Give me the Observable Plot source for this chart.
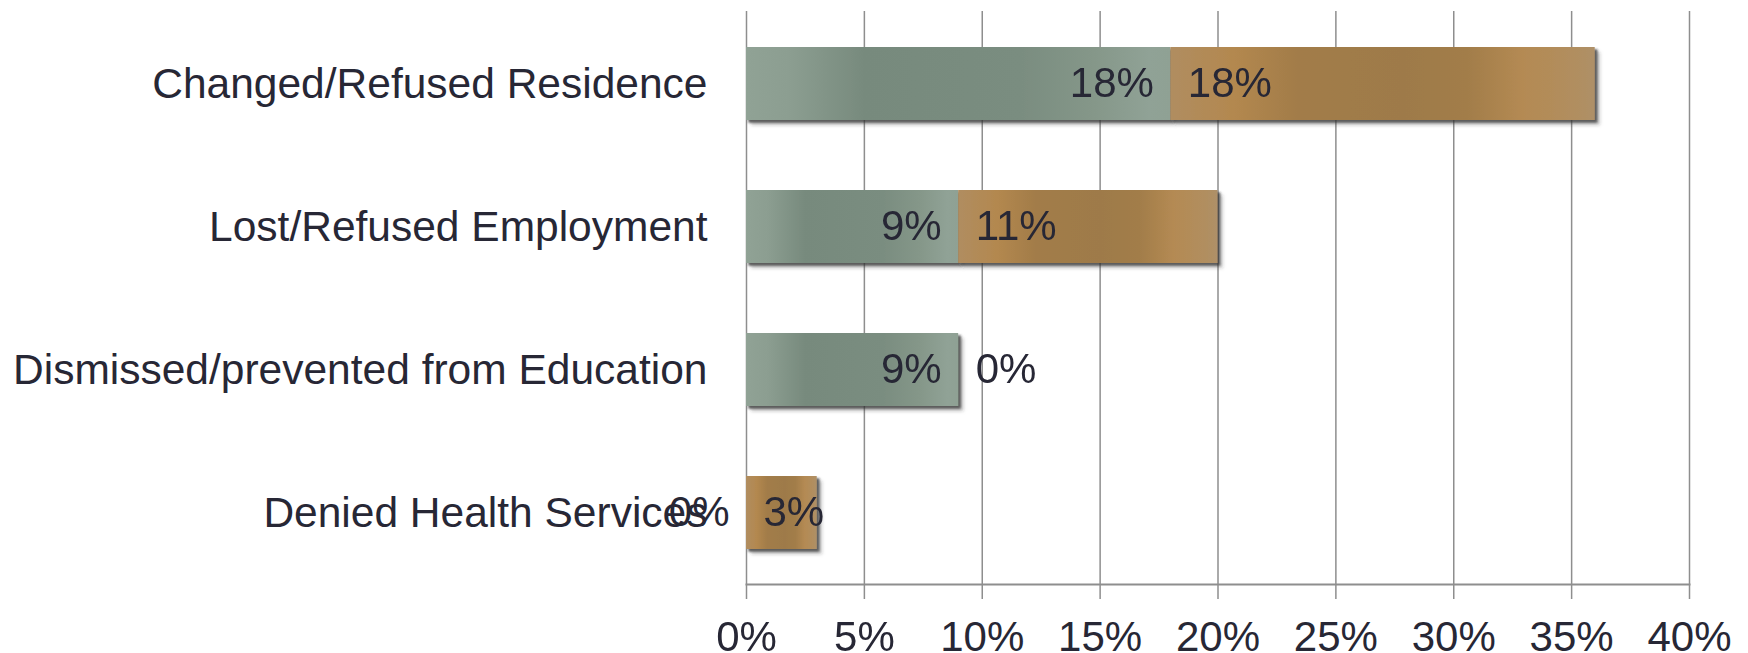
<!DOCTYPE html>
<html>
<head>
<meta charset="utf-8">
<script src="https://cdn.jsdelivr.net/npm/d3@7"></script>
<script src="https://cdn.jsdelivr.net/npm/@observablehq/plot@0.6"></script>
<style>
  html, body { margin: 0; padding: 0; background: #fff; }
  svg { display: block; }
</style>
</head>
<body>
<div id="chart"></div>
<script>
const categories = [
  "Changed/Refused Residence",
  "Lost/Refused Employment",
  "Dismissed/prevented from Education",
  "Denied Health Services"
];
const seriesA = [18, 9, 9, 0];   // green segment
const seriesB = [18, 11, 0, 3];  // brown segment
const xTicks = [0, 5, 10, 15, 20, 25, 30, 35, 40];

const rows = categories.map((c, i) => ({category: c, a: seriesA[i], b: seriesB[i]}));

const textColor = "#272735";
const gridColor = "#8e8e8e";
const font = "'Liberation Sans', Arial, sans-serif";

function defs() {
  const d = d3.create("svg:defs");
  const g = d.append("linearGradient").attr("id", "gGreen").attr("x1", 0).attr("x2", 1).attr("y1", 0).attr("y2", 0);
  [[0, "#90a295"], [0.1, "#8c9e91"], [0.28, "#778a7d"], [0.65, "#7a8d80"], [0.82, "#859789"], [0.95, "#90a296"], [1, "#8fa194"]]
    .forEach(([o, c]) => g.append("stop").attr("offset", o).attr("stop-color", c));
  const b = d.append("linearGradient").attr("id", "gBrown").attr("x1", 0).attr("x2", 1).attr("y1", 0).attr("y2", 0);
  [[0, "#b08d60"], [0.15, "#b3884f"], [0.3, "#a27c49"], [0.55, "#9e7a48"], [0.7, "#a27d4a"], [0.83, "#b48a53"], [0.95, "#b18e5f"], [1, "#ae9068"]]
    .forEach(([o, c]) => b.append("stop").attr("offset", o).attr("stop-color", c));
  const f = d.append("filter").attr("id", "shadow")
    .attr("filterUnits", "userSpaceOnUse")
    .attr("x", 0).attr("y", 0).attr("width", 1748).attr("height", 653);
  f.append("feDropShadow").attr("dx", 2.5).attr("dy", 2.5).attr("stdDeviation", 1.3)
    .attr("flood-color", "#333").attr("flood-opacity", 0.55);
  return d.node();
}

const chart = Plot.plot({
  width: 1748,
  height: 653,
  marginLeft: 746,
  marginRight: 59,
  marginTop: 11,
  marginBottom: 69,
  style: {fontFamily: font, fontSize: "42px", color: textColor, background: "#fff"},
  x: {domain: [0, 40], label: null},
  y: {domain: categories, paddingInner: 0.49, paddingOuter: 0.245, label: null},
  marks: [
    defs,
    Plot.gridX(xTicks, {stroke: gridColor, strokeOpacity: 1, strokeWidth: 1.5}),
    Plot.barX(rows, {y: "category", x1: d => 0, x2: "a", fill: "url(#gGreen)", ariaLabel: "barA"}),
    Plot.barX(rows, {y: "category", x1: "a", x2: d => d.a + d.b, fill: "url(#gBrown)", ariaLabel: "barB"}),
    Plot.text(rows, {y: "category", x: "a", text: d => d.a + "%", textAnchor: "end", dx: -17, fontSize: 42, fill: textColor}),
    Plot.text(rows, {y: "category", x: "a", text: d => d.b + "%", textAnchor: "start", dx: 17, fontSize: 42, fill: textColor}),
    Plot.frame({anchor: "bottom", stroke: gridColor, strokeWidth: 2}),
    Plot.axisX(xTicks, {tickSize: 15, tickPadding: 22, stroke: gridColor, strokeWidth: 1.5, fill: textColor, fontSize: 42, tickFormat: d => d + "%", label: null}),
    Plot.axisY({tickSize: 0, tickPadding: 39, fill: textColor, fontSize: 42.5, label: null})
  ]
});

d3.select(chart).selectAll("rect").filter(function() {
  const f = this.getAttribute("fill") || (this.parentNode && this.parentNode.getAttribute("fill")) || "";
  return f.startsWith("url(");
}).attr("filter", "url(#shadow)");
d3.select(chart).selectAll("g").filter(function() {
  const f = this.getAttribute("fill") || "";
  return f.startsWith("url(");
}).attr("filter", "url(#shadow)");
document.getElementById("chart").appendChild(chart);
</script>
</body>
</html>
